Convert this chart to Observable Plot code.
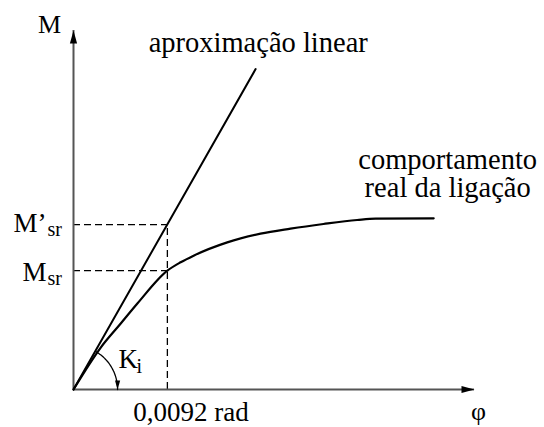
<!DOCTYPE html>
<html>
<head>
<meta charset="utf-8">
<script src="https://cdn.jsdelivr.net/npm/d3@7"></script>
<script src="https://cdn.jsdelivr.net/npm/@observablehq/plot@0.6"></script>
<style>
  html, body { margin: 0; padding: 0; background: #fff; }
</style>
</head>
<body>
<div id="chart"></div>
<script>
// ---- data ----
const phiRef = 0.0092;          // rad, marked on the φ axis
const Msr = 1.0;                // M_sr (normalised)
const Mpsr = 1.387;             // M'_sr
const Ki = 151;                 // initial stiffness (slope of linear approximation)
const phiLinEnd = 0.01785;      // end of the linear approximation line
const phiMax = 0.0393;          // axis extent φ
const MMax = 3.02;              // axis extent M

const curvePhi = [0, 0.00267, 0.00463, 0.00626, 0.0092, 0.0105, 0.01177, 0.01507, 0.01833, 0.02127, 0.0245, 0.0278, 0.0296, 0.0353];
const curveM   = [0, 0.353,   0.555,   0.723,   1.0,    1.070,  1.126,   1.238,   1.311,   1.353,   1.392,  1.426,  1.438,  1.440];

const curve = curvePhi.map((p, i) => ({phi: p, M: curveM[i]}));
const linear = [{phi: 0, M: 0}, {phi: phiLinEnd, M: Ki * phiLinEnd}];

// K_i angle arc (radius expressed in data units along each axis)
const arcRx = 0.00432, arcRy = 0.37;
const arc = d3.range(0, 61, 2).map(t => {
  const a = t * Math.PI / 180;
  return {phi: arcRx * Math.cos(a), M: arcRy * Math.sin(a)};
});

// filled arrowhead symbols (tip at the anchor point)
const head = (dir, L = 13, W = 3.6) => ({
  draw(ctx) {
    if (dir === "up")    { ctx.moveTo(0, 0); ctx.lineTo(W, L); ctx.lineTo(-W, L); }
    if (dir === "right") { ctx.moveTo(0, 0); ctx.lineTo(-L, W); ctx.lineTo(-L, -W); }
    if (dir === "down")  { ctx.moveTo(0, 0); ctx.lineTo(W, -L); ctx.lineTo(-W, -L); }
    ctx.closePath();
  }
});

const font = "'Liberation Serif', 'Times New Roman', serif";
const T = (label, opts) => Plot.text([label], {text: d => d, fill: "black", fontFamily: font, lineAnchor: "bottom", ...opts});

const chart = Plot.plot({
  width: 544,
  height: 427,
  marginLeft: 73,
  marginRight: 70,
  marginTop: 30,
  marginBottom: 38,
  x: {domain: [0, phiMax], axis: null},
  y: {domain: [0, MMax], axis: null},
  style: {background: "white", overflow: "visible"},
  marks: [
    // dashed guides
    Plot.ruleX([phiRef], {y1: 0, y2: Mpsr, stroke: "black", strokeWidth: 1.3, strokeDasharray: "7,4"}),
    Plot.ruleY([Msr, Mpsr], {x1: 0, x2: phiRef, stroke: "black", strokeWidth: 1.3, strokeDasharray: "7,4"}),
    // axes with arrowheads
    Plot.ruleY([0], {x1: 0, x2: phiMax, stroke: "#555", strokeWidth: 2}),
    Plot.ruleX([0], {y1: 0, y2: MMax, stroke: "#555", strokeWidth: 2}),
    Plot.dot([{phi: 0, M: MMax}], {x: "phi", y: "M", symbol: head("up"), fill: "black", stroke: "none", r: 5}),
    Plot.dot([{phi: phiMax, M: 0}], {x: "phi", y: "M", symbol: head("right"), fill: "black", stroke: "none", r: 5}),
    // linear approximation
    Plot.line(linear, {x: "phi", y: "M", stroke: "black", strokeWidth: 2}),
    // real behaviour
    Plot.line(curve, {x: "phi", y: "M", curve: "monotone-x", stroke: "black", strokeWidth: 2.2}),
    // K_i arc
    Plot.line(arc, {x: "phi", y: "M", curve: "catmull-rom", stroke: "black", strokeWidth: 1.3}),
    Plot.dot([{phi: arcRx, M: 0}], {x: "phi", y: "M", symbol: head("down", 9, 2.6), fill: "black", stroke: "none", r: 4}),
    // labels
    T("M", {x: 0, y: MMax, fontSize: 26, textAnchor: "middle", dx: -24, dy: 2}),
    T("aproximação linear", {x: phiLinEnd, y: Ki * phiLinEnd, fontSize: 28.5, textAnchor: "start", dx: -107, dy: -17}),
    T("comportamento\nreal da ligação", {x: curvePhi[curvePhi.length - 1], y: curveM[curveM.length - 1], fontSize: 28.5, lineHeight: 1, textAnchor: "middle", dx: 14, dy: -21}),
    T("M’", {x: 0, y: Mpsr, fontSize: 27, textAnchor: "end", dx: -27, dy: 7}),
    T("sr", {x: 0, y: Mpsr, fontSize: 20, textAnchor: "start", dx: -26, dy: 11}),
    T("M", {x: 0, y: Msr, fontSize: 27, textAnchor: "end", dx: -27, dy: 10}),
    T("sr", {x: 0, y: Msr, fontSize: 20, textAnchor: "start", dx: -26, dy: 14}),
    T("K", {x: 0, y: 0, fontSize: 27, textAnchor: "start", dx: 45, dy: -22}),
    T("i", {x: 0, y: 0, fontSize: 20, textAnchor: "start", dx: 63, dy: -17}),
    T("0,0092 rad", {x: phiRef, y: 0, fontSize: 27, textAnchor: "start", dx: -34, dy: 31}),
    T("φ", {x: phiMax, y: 0, fontSize: 26, textAnchor: "middle", dx: 4, dy: 30})
  ]
});

document.getElementById("chart").appendChild(chart);
</script>
</body>
</html>
